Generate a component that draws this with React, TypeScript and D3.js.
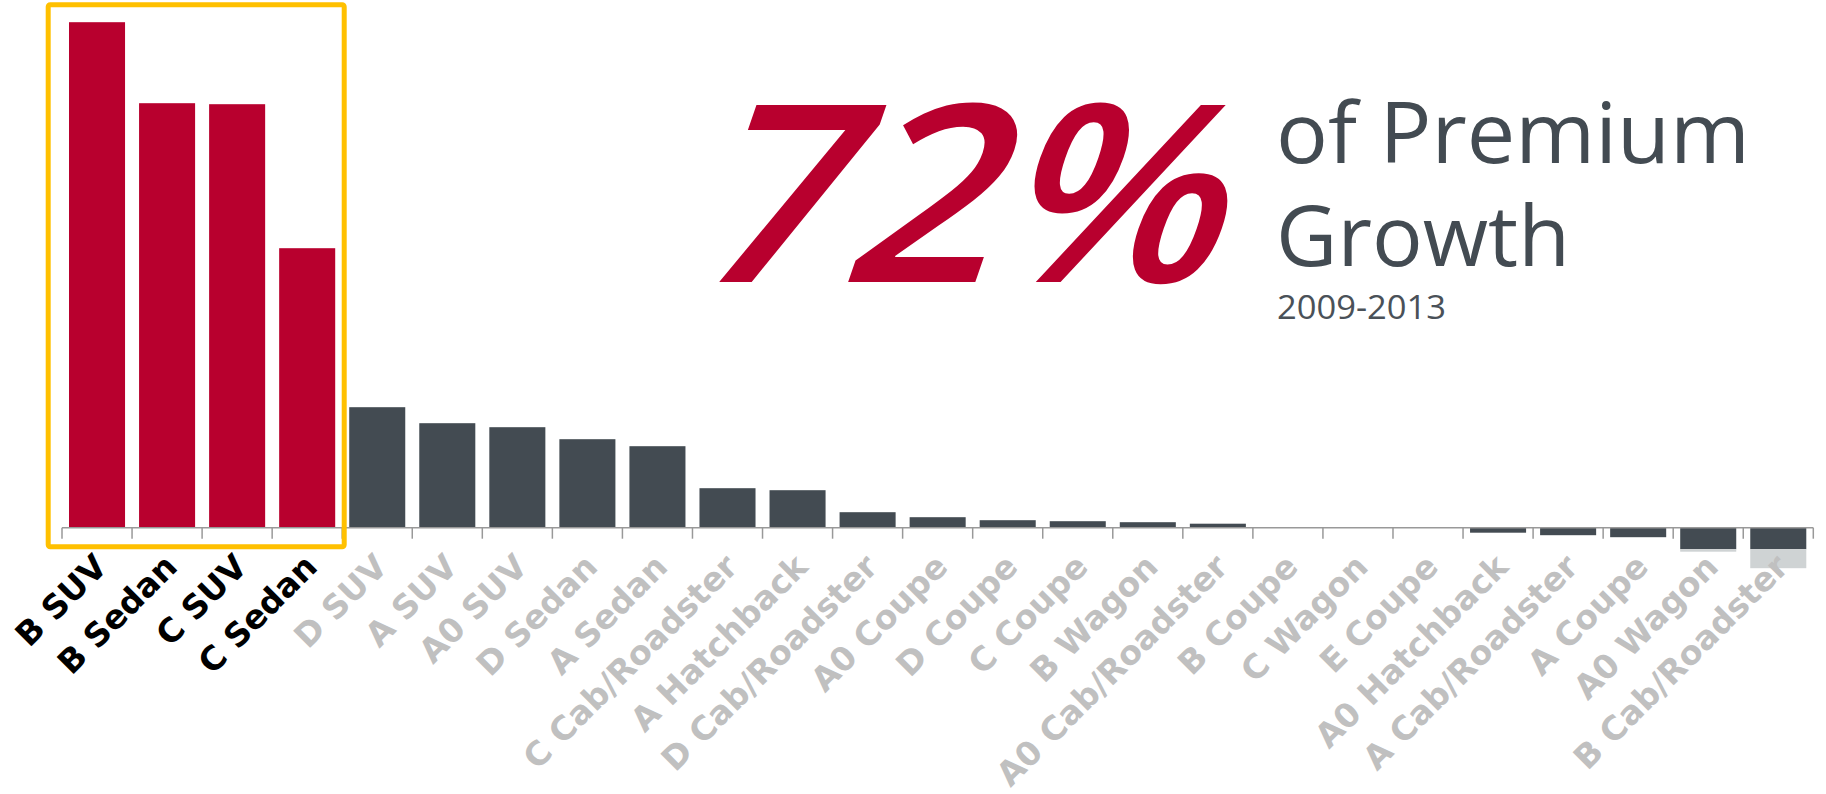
import React from "react";
import * as d3 from "d3";

const categories = ["B SUV", "B Sedan", "C SUV", "C Sedan", "D SUV", "A SUV", "A0 SUV", "D Sedan", "A Sedan", "C Cab/Roadster", "A Hatchback", "D Cab/Roadster", "A0 Coupe", "D Coupe", "C Coupe", "B Wagon", "A0 Cab/Roadster", "B Coupe", "C Wagon", "E Coupe", "A0 Hatchback", "A Cab/Roadster", "A Coupe", "A0 Wagon", "B Cab/Roadster"];
const growth = [101.1, 84.9, 84.7, 55.9, 24.1, 20.9, 20.1, 17.7, 16.3, 7.9, 7.5, 3.1, 2.1, 1.5, 1.3, 1.1, 0.8, 0.1, 0.05, 0.03, -1.0, -1.5, -1.9, -4.3, -4.3];
const extraDecline = [0, 0, 0, 0, 0, 0, 0, 0, 0, 0, 0, 0, 0, 0, 0, 0, 0, 0, 0, 0, 0, 0, 0, -0.5, -3.8];
const highlightCount = 4;
const headline = "72%";
const titleLines = ["of Premium", "Growth"];
const period = "2009-2013";

const W = 1826;
const H = 794;
const RED = "#b8002e";
const DARK = "#434b52";
const LIGHT = "#cfd3d4";
const YELLOW = "#ffc000";
const AXIS = "#999999";
const LABEL_GRAY = "#c0c0c0";

export default function App() {
  const x = d3.scaleBand<string>().domain(categories).range([62, 1813.3]).paddingInner(0.2).paddingOuter(0.1);
  const baseline = 527.7;
  const y = d3.scaleLinear().domain([0, 100]).range([baseline, baseline - 500]);
  const step = x.step();
  const bounds = categories.map((c) => (x(c) as number) - step * 0.1);
  bounds.push(bounds[bounds.length - 1] + step);

  const boxLeft = bounds[0] - 13.8;
  const boxRight = bounds[highlightCount] + 2;

  return (
    <svg width={W} height={H} style={{ position: "absolute", left: 0, top: 0, display: "block" }}>
      <rect x={0} y={0} width={W} height={H} fill="#ffffff" />
      {categories.map((c, i) => {
        const v = growth[i];
        const y0 = y(Math.max(0, v));
        const y1 = y(Math.min(0, v));
        const e = extraDecline[i];
        return (
          <g key={c}>
            <rect x={x(c)} y={y0} width={x.bandwidth()} height={Math.max(0, y1 - y0)} fill={i < highlightCount ? RED : DARK} />
            {e !== 0 && (
              <rect x={x(c)} y={y(v)} width={x.bandwidth()} height={y(v + e) - y(v)} fill={LIGHT} />
            )}
          </g>
        );
      })}
      <line x1={bounds[0]} x2={bounds[bounds.length - 1]} y1={baseline} y2={baseline} stroke={AXIS} strokeWidth={1.5} />
      {bounds.map((b, i) => (
        <line key={i} x1={b} x2={b} y1={baseline} y2={baseline + 11} stroke={AXIS} strokeWidth={1.5} />
      ))}
      <rect x={boxLeft} y={4.8} width={boxRight - boxLeft} height={546.8 - 4.8} fill="none" stroke={YELLOW} strokeWidth={5} rx={2} />
      {categories.map((c, i) => {
        const cx = (x(c) as number) + x.bandwidth() / 2 + 12;
        const cy = baseline + 41;
        return (
          <text
            key={"l" + c}
            transform={`translate(${cx},${cy}) rotate(-45)`}
            textAnchor="end"
            fontFamily="DejaVu Sans"
            fontWeight="bold"
            fontSize={33}
            fill={i < highlightCount ? "#000000" : LABEL_GRAY}
          >
            {c}
          </text>
        );
      })}
      <text
        transform="translate(686,282) skewX(-19)"
        fontFamily="Open Sans"
        fontWeight={600}
        fontSize={248}
        fill={RED}
        textLength={528}
        lengthAdjust="spacingAndGlyphs"
      >
        {headline}
      </text>
      <text x={1276} y={162.7} fontFamily="Open Sans" fontSize={84} fill={DARK} textLength={474} lengthAdjust="spacingAndGlyphs">
        {titleLines[0]}
      </text>
      <text x={1276} y={266} fontFamily="Open Sans" fontSize={84} fill={DARK} textLength={294} lengthAdjust="spacingAndGlyphs">
        {titleLines[1]}
      </text>
      <text x={1277} y={319.3} fontFamily="Open Sans" fontSize={32} fill="#4a5158" textLength={169} lengthAdjust="spacingAndGlyphs">
        {period}
      </text>
    </svg>
  );
}
